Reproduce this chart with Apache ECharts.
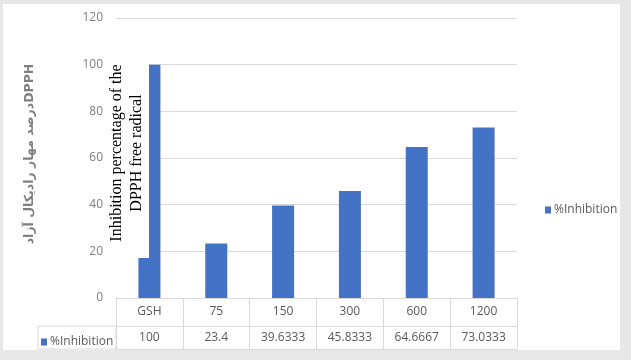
<!DOCTYPE html>
<html>
<head>
<meta charset="utf-8">
<script src="https://cdn.jsdelivr.net/npm/echarts@6/dist/echarts.min.js"></script>
<style>
  html, body { margin: 0; padding: 0; background: #e7e7e7; }
  #chart { width: 631px; height: 360px; }
</style>
</head>
<body>
<div id="chart"></div>
<script>
const categories = ['GSH', '75', '150', '300', '600', '1200'];
const inhibition = [100, 23.4, 39.6333, 45.8333, 64.6667, 73.0333];
const seriesName = '%Inhibition';
const yTitle = 'درصد مهار رادیکال آزادDPPH';
const overlayText = 'Inhibition percentage of the\nDPPH free radical';

const lineGray = '#d9d9d9';
const textGray = '#595959';
const barBlue = '#4472c4';

const chart = echarts.init(document.getElementById('chart'));

// table rows under the plot are drawn as extra x axes
const tableAxis = (offset, showLabels, margin) => ({
  type: 'category',
  data: categories,
  position: 'bottom',
  offset: offset,
  axisLine: { show: true, lineStyle: { color: lineGray } },
  axisTick: { show: showLabels, length: offset === 0 ? 28 : 23, lineStyle: { color: lineGray } },
  axisLabel: {
    show: showLabels,
    interval: 0,
    margin: margin,
    color: textGray,
    fontFamily: 'Open Sans',
    fontSize: 12,
    formatter: offset === 0 ? (v) => v : (v, i) => String(inhibition[i])
  },
  splitLine: { show: false }
});

const option = {
  backgroundColor: '#e7e7e7',
  animation: false,
  grid: { left: 116, right: 114, top: 18, bottom: 62 },
  legend: [
    {
      data: [seriesName],
      left: 540, top: 199,
      icon: 'rect', itemWidth: 6, itemHeight: 7, itemGap: 3,
      textStyle: { color: textGray, fontFamily: 'Open Sans', fontSize: 12, padding: [0, 0, 0, -2] }
    },
    {
      data: [seriesName],
      left: 36, top: 331,
      icon: 'rect', itemWidth: 6, itemHeight: 7, itemGap: 3,
      textStyle: { color: textGray, fontFamily: 'Open Sans', fontSize: 12, padding: [0, 0, 0, -2] }
    }
  ],
  xAxis: [
    tableAxis(0, true, 8),
    tableAxis(28, true, 6),
    tableAxis(51, false, 0)
  ],
  yAxis: {
    type: 'value',
    min: 0, max: 120, interval: 20,
    name: yTitle,
    nameLocation: 'middle',
    nameGap: 80,
    nameTextStyle: { color: '#7f7f7f', fontFamily: 'DejaVu Sans', fontSize: 12.5, fontWeight: 'bold', padding: [0, 0, 0, 8] },
    axisLine: { show: false },
    axisTick: { show: false },
    axisLabel: { color: '#808080', fontFamily: 'Open Sans', fontSize: 12, margin: 13 },
    splitLine: { lineStyle: { color: lineGray } }
  },
  series: [{
    name: seriesName,
    type: 'bar',
    data: inhibition,
    barWidth: 22,
    itemStyle: { color: barBlue }
  }],
  graphic: [
    { type: 'rect', z: -100, shape: { x: 3, y: 4, width: 617, height: 346 }, style: { fill: '#ffffff' } },
    // legend key cell of the data table
    { type: 'rect', z: 50, shape: { x: 38, y: 326, width: 78, height: 23 }, style: { fill: 'none', stroke: lineGray, lineWidth: 1 } },
    // pasted text box over the first bar
    { type: 'rect', z: 100, shape: { x: 104, y: 56, width: 45, height: 202 }, style: { fill: '#ffffff' } },
    {
      type: 'text', z: 101, x: 127, y: 153, rotation: Math.PI / 2,
      style: {
        text: overlayText,
        fill: '#000000',
        font: '16px "Liberation Serif"',
        lineHeight: 20,
        align: 'center',
        verticalAlign: 'middle'
      }
    }
  ]
};

chart.setOption(option);
</script>
</body>
</html>
